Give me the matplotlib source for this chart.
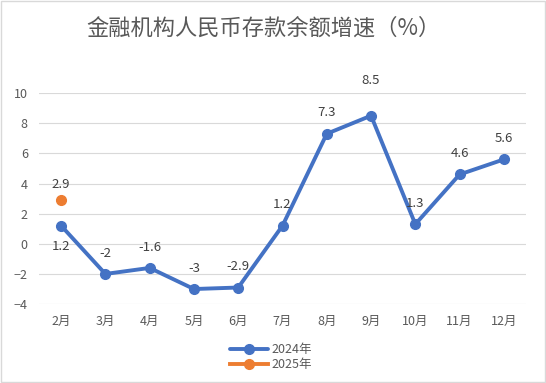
import matplotlib.pyplot as plt
from matplotlib.patches import Rectangle

plt.rcParams['font.family'] = ['Noto Sans CJK SC', 'DejaVu Sans']

months = ['2月', '3月', '4月', '5月', '6月', '7月', '8月', '9月', '10月', '11月', '12月']
v2024 = [1.2, -2, -1.6, -3, -2.9, 1.2, 7.3, 8.5, 1.3, 4.6, 5.6]
v2025 = [2.9]

# label offsets in points (negative = below the point)
off2024 = [-15, 15, 15, 15, 15, 15, 15, 25, 15, 15, 15]
off2025 = [11.5]

blue = '#4472C4'
orange = '#ED7D31'
gray = '#595959'

fig = plt.figure(figsize=(5.46, 3.83), dpi=100)
ax = fig.add_axes([0.0714, 0.206, 0.892, 0.551])

x = list(range(len(months)))
ax.plot(x, v2024, color=blue, lw=2.8, marker='o', ms=7, label='2024年',
        solid_capstyle='round', zorder=3)
ax.plot(x[:len(v2025)], v2025, color=orange, lw=2.8, marker='o', ms=7,
        label='2025年', zorder=3)

for i, v in enumerate(v2024):
    ax.annotate(f'{v:g}', (i, v), xytext=(0, off2024[i]), textcoords='offset points',
                ha='center', va='center', fontsize=9.5, color='#404040')
for i, v in enumerate(v2025):
    ax.annotate(f'{v:g}', (i, v), xytext=(0, off2025[i]), textcoords='offset points',
                ha='center', va='center', fontsize=9.5, color='#404040')

ax.set_xlim(-0.5, len(months) - 0.5)
ax.set_ylim(-4, 10)
ax.set_yticks(range(-4, 11, 2))
ax.set_xticks(x)
ax.set_xticklabels(months)
ax.tick_params(length=0, labelsize=9, colors=gray, pad=8)
ax.grid(axis='y', color='#D9D9D9', lw=0.8)
ax.set_axisbelow(True)
for s in ax.spines.values():
    s.set_visible(False)

fig.text(0.482, 0.927, '金融机构人民币存款余额增速（%）', ha='center', va='center',
         fontsize=16, color=gray, fontweight='light')

leg = fig.legend(loc='center', bbox_to_anchor=(0.497, 0.068), ncol=1, frameon=False,
                 fontsize=9, handlelength=3, labelspacing=0.15, handletextpad=0.3)
for t in leg.get_texts():
    t.set_color(gray)

fig.patches.append(Rectangle((0.002, 0.003), 0.996, 0.994, transform=fig.transFigure,
                             fill=False, edgecolor='#D9D9D9', lw=1))

fig.savefig('out.png', dpi=100)
